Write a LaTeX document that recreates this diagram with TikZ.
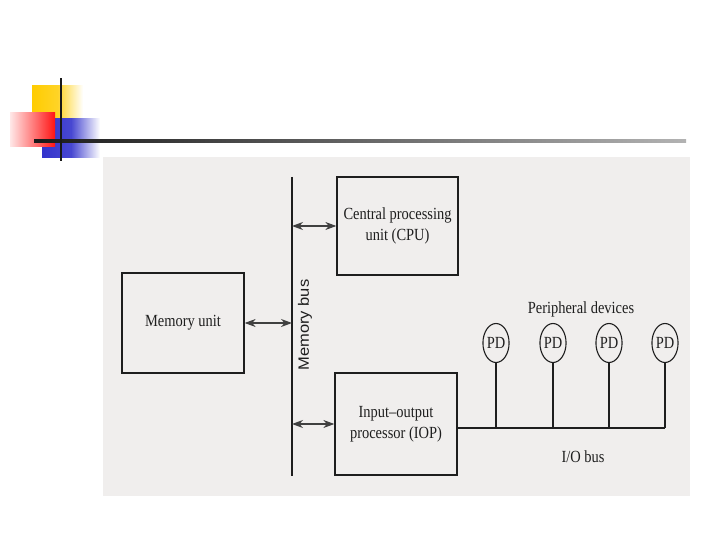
\documentclass[tikz,border=0pt]{standalone}
\usepackage{fontspec}
\setmainfont[FakeStretch=0.85]{Liberation Serif}
\setsansfont{Liberation Sans}
\usetikzlibrary{arrows.meta,shapes.geometric}
\definecolor{logoyellow}{RGB}{255,204,0}
\definecolor{logored}{RGB}{255,20,20}
\definecolor{logoblue}{RGB}{51,51,204}
\definecolor{scanbg}{RGB}{240,238,237}
\definecolor{ink}{RGB}{30,30,30}
\tikzset{
  unitbox/.style={draw=ink, line width=1.3pt, align=center, text=ink,
    font=\fontsize{17}{21}\selectfont, inner sep=0pt},
  busline/.style={draw=ink, line width=1.2pt},
  biarrow/.style={draw=ink!85, line width=1.1pt,
    {Stealth[length=11pt,width=8pt,inset=3.5pt]}-{Stealth[length=11pt,width=8pt,inset=3.5pt]}},
  pdnode/.style={ellipse, draw=ink, line width=1.1pt, minimum width=26pt,
    minimum height=39pt, inner sep=0pt, text=ink, font=\fontsize{17}{18}\selectfont},
  lbl/.style={text=ink, font=\fontsize{17}{18}\selectfont, inner sep=0pt}
}
\begin{document}
\begin{tikzpicture}[x=1pt,y=-1pt]
\useasboundingbox (0,0) rectangle (720,540);
\fill[white] (0,0) rectangle (720,540);
% slide logo
\shade[left color=logoyellow, right color=white, middle color=logoyellow!85]
  (32,86) rectangle (83,119);
\shade[left color=logoblue, right color=white, middle color=logoblue!90]
  (42,119) rectangle (100,158);
\shade[left color=logored!10, right color=logored] (10,113) rectangle (55,147);
\shade[left color=black!90, right color=black!30] (34,140) rectangle (686,142.2);
\fill[black!90] (60,78) rectangle (62.2,161);
% scan background
\fill[scanbg] (103,157) rectangle (690,496);
% diagram
\coordinate (bustop) at (292,177);
\coordinate (busbot) at (292,476);
\draw[busline] (bustop) -- (busbot);
\node[lbl, rotate=90, font=\sffamily\fontsize{15}{16}\selectfont] (busl) at (305,325)
  {\scalebox{1.1}[1]{Memory bus}};
\node[unitbox, minimum width=121pt, minimum height=98pt] (cpu) at (397.5,226)
  {Central processing\\unit (CPU)};
\node[unitbox, minimum width=122pt, minimum height=100pt] (mem) at (183,323)
  {Memory unit};
\node[unitbox, minimum width=122pt, minimum height=102pt] (iop) at (396,424)
  {Input--output\\processor (IOP)};
\draw[biarrow] (cpu.west) -- (cpu.west -| bustop);
\draw[biarrow] (mem.east) -- (mem.east -| bustop);
\draw[biarrow] (iop.east -| bustop) -- (iop.west);
\coordinate (iob) at (665,428);
\draw[busline] (iop.east |- iob) -- (iob);
\node[lbl] (iobl) at (583,457) {I/O bus};
\node[lbl] (pdl) at (581,309) {Peripheral devices};
\node[pdnode] (pd1) at (496,343) {PD};
\node[pdnode] (pd2) at (553,343) {PD};
\node[pdnode] (pd3) at (609,343) {PD};
\node[pdnode] (pd4) at (665,343) {PD};
\foreach \p in {pd1,pd2,pd3,pd4}
  \draw[busline] (\p.south) -- (\p.south |- iob);
\end{tikzpicture}
\end{document}
